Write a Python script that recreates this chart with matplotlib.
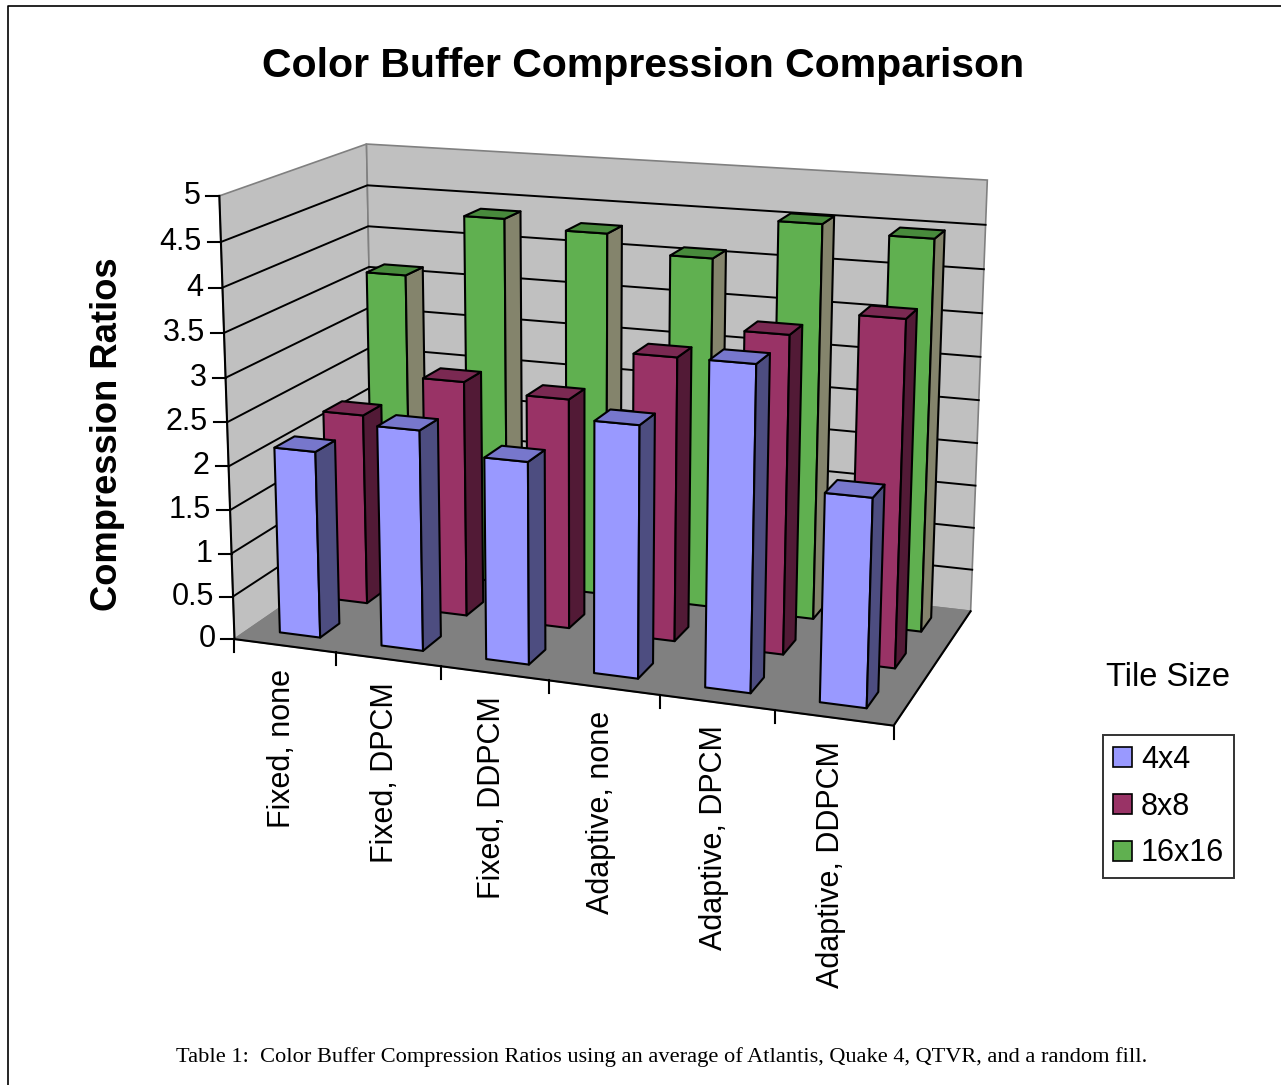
import numpy as np
import matplotlib.pyplot as plt
from matplotlib.patches import Polygon, Patch

plt.rcParams['font.family'] = ['Liberation Sans', 'DejaVu Sans']

categories = ["Fixed, none", "Fixed, DPCM", "Fixed, DDPCM",
              "Adaptive, none", "Adaptive, DPCM", "Adaptive, DDPCM"]
tile_sizes = ["4x4", "8x8", "16x16"]
ratio_4x4 = [2.15, 2.51, 2.28, 2.80, 3.56, 2.27]
ratio_8x8 = [2.25, 2.75, 2.66, 3.24, 3.59, 3.86]
ratio_16x16 = [3.63, 4.38, 4.29, 4.09, 4.56, 4.48]
value_ticks = [0, 0.5, 1, 1.5, 2, 2.5, 3, 3.5, 4, 4.5, 5]
value_labels = ["0", "0.5", "1", "1.5", "2", "2.5", "3", "3.5", "4", "4.5", "5"]

# front / top / side colours for each series
face_colors = [("#9999FF", "#7777CC", "#4D4D80"),
               ("#993366", "#7A2952", "#521A36"),
               ("#60B050", "#488A3C", "#84846C")]

W, H = 1281, 1085
ncat, nrow, zmax = len(categories), len(tile_sizes), 5.0

# corners of the 3d plot box (category, row, value) and their place on the page
box_world = [(0, 0, 0), (0, 0, zmax), (0, nrow, zmax), (0, nrow, 0),
             (ncat, nrow, zmax), (ncat, nrow, 0), (ncat, 0, 0),
             (1, 0, 0), (2, 0, 0), (3, 0, 0), (4, 0, 0), (5, 0, 0)]
box_page = [(235, 638), (218, 196), (368, 144), (373, 544),
            (987, 180), (971, 610), (893, 726),
            (337, 652), (441, 666), (549, 680), (661, 696), (775, 711)]


def fit_camera(world, page):
    rows = []
    for (X, Y, Z), (u, v) in zip(world, page):
        u, v = u / 1000.0, v / 1000.0
        rows.append([X, Y, Z, 1, 0, 0, 0, 0, -u * X, -u * Y, -u * Z, -u])
        rows.append([0, 0, 0, 0, X, Y, Z, 1, -v * X, -v * Y, -v * Z, -v])
    _, _, vt = np.linalg.svd(np.array(rows, dtype=float))
    P = vt[-1].reshape(3, 4)
    P[:2] *= 1000.0
    return P


P = fit_camera(box_world, box_page)
cam = -np.linalg.solve(P[:, :3], P[:, 3])


def project(pts):
    pts = np.atleast_2d(np.asarray(pts, dtype=float))
    h = np.c_[pts, np.ones(len(pts))] @ P.T
    return h[:, :2] / h[:, 2:3]


fig = plt.figure(figsize=(W / 100, H / 100), dpi=100)
ax = fig.add_axes([0, 0, 1, 1])
ax.set_xlim(0, W)
ax.set_ylim(H, 0)
ax.axis('off')

# chart border
ax.plot([8, 8, W], [H, 6, 6], color='black', lw=1.2, zorder=0)

# walls and floor
left_wall = [(0, 0, 0), (0, nrow, 0), (0, nrow, zmax), (0, 0, zmax)]
back_wall = [(0, nrow, 0), (ncat, nrow, 0), (ncat, nrow, zmax), (0, nrow, zmax)]
floor = [(0, 0, 0), (ncat, 0, 0), (ncat, nrow, 0), (0, nrow, 0)]
for quad, fc in [(left_wall, '#C0C0C0'), (back_wall, '#C0C0C0'), (floor, '#808080')]:
    ax.add_patch(Polygon(project(quad), closed=True, facecolor=fc,
                         edgecolor='#808080', lw=1.2, zorder=1))

# gridlines on the walls
for z in value_ticks[1:-1]:
    pts = project([(0, 0, z), (0, nrow, z), (ncat, nrow, z)])
    ax.plot(pts[:, 0], pts[:, 1], color='black', lw=1.4, zorder=2)

# axis lines: value axis and the front and right floor edges
pts = project([(0, 0, zmax), (0, 0, 0), (ncat, 0, 0), (ncat, nrow, 0)])
ax.plot(pts[:, 0], pts[:, 1], color='black', lw=1.5, zorder=2,
        solid_joinstyle='miter')

for z, lab in zip(value_ticks, value_labels):
    u, v = project([(0, 0, z)])[0]
    ax.plot([u - 13, u], [v, v], color='black', lw=1.5, zorder=2)
    ax.text(u - 19, v, lab, ha='right', va='center', fontsize=22)

for k in range(ncat + 1):
    u, v = project([(k, 0, 0)])[0]
    ax.plot([u, u], [v, v + 13], color='black', lw=1.5, zorder=2)

for i, name in enumerate(categories):
    u, v = project([(i + 0.5, 0, 0)])[0]
    ax.text(u - 3, v + 23, name, rotation=90, ha='center', va='top',
            fontsize=22)

# bars, drawn from the back to the front
series = [ratio_4x4, ratio_8x8, ratio_16x16]
bw = 0.4
bars = []
for j, vals in enumerate(series):
    for i, val in enumerate(vals):
        x0, x1 = i + 0.5 - bw / 2, i + 0.5 + bw / 2
        y0, y1 = j + 0.5 - bw / 2, j + 0.5 + bw / 2
        centre = np.array([(x0 + x1) / 2, (y0 + y1) / 2, val / 2])
        bars.append((np.linalg.norm(cam - centre), j, x0, x1, y0, y1, val))
bars.sort(key=lambda b: -b[0])

for n, (_, j, x0, x1, y0, y1, val) in enumerate(bars):
    front, top, side = face_colors[j]
    faces = [
        ((0, -1, 0), [(x0, y0, 0), (x1, y0, 0), (x1, y0, val), (x0, y0, val)], front),
        ((0, 1, 0), [(x0, y1, 0), (x1, y1, 0), (x1, y1, val), (x0, y1, val)], front),
        ((-1, 0, 0), [(x0, y0, 0), (x0, y1, 0), (x0, y1, val), (x0, y0, val)], side),
        ((1, 0, 0), [(x1, y0, 0), (x1, y1, 0), (x1, y1, val), (x1, y0, val)], side),
        ((0, 0, 1), [(x0, y0, val), (x1, y0, val), (x1, y1, val), (x0, y1, val)], top),
    ]
    for normal, quad, fc in faces:
        mid = np.mean(quad, axis=0)
        if np.dot(normal, cam - mid) <= 0:
            continue
        ax.add_patch(Polygon(project(quad), closed=True, facecolor=fc,
                             edgecolor='black', lw=1.5, joinstyle='round',
                             zorder=3 + n))

ax.text(643, 66, "Color Buffer Compression Comparison", ha='center',
        va='center', fontsize=29.5, fontweight='bold')
ax.text(108, 434, "Compression Ratios", rotation=90, ha='center',
        va='center', fontsize=26.2, fontweight='bold')

# legend
handles = [Patch(facecolor=face_colors[j][0], edgecolor='black', lw=1.2)
           for j in range(nrow)]
leg = ax.legend(handles, tile_sizes, loc='upper left',
                bbox_to_anchor=(1103, 735), bbox_transform=ax.transData,
                fontsize=22, frameon=True, fancybox=False,
                handlelength=0.62, handleheight=0.62, handletextpad=0.3,
                labelspacing=0.55, borderpad=0.32, borderaxespad=0)
leg.get_frame().set_edgecolor('black')
leg.get_frame().set_linewidth(1.4)
ax.text(1168, 677, "Tile Size", ha='center', va='center', fontsize=23.5)

ax.text(662, 1057, "Table 1:  Color Buffer Compression Ratios using an average "
        "of Atlantis, Quake 4, QTVR, and a random fill.",
        ha='center', va='center', fontsize=16.1, family='Liberation Serif')

fig.savefig('out.png', dpi=100, facecolor='white')
